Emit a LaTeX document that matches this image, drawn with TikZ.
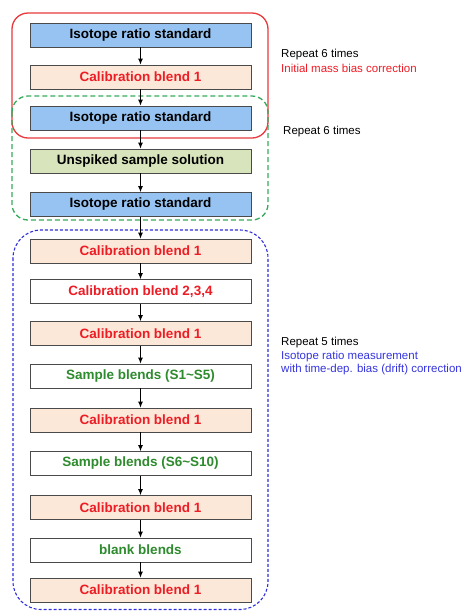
\documentclass[tikz,border=0pt]{standalone}
\usepackage{fontspec}
\setmainfont{Liberation Sans}
\usepackage{xcolor}
\usetikzlibrary{arrows.meta}
\definecolor{FlowBlue}{HTML}{96C3F2}
\definecolor{FlowPeach}{HTML}{FCE8D8}
\definecolor{FlowOlive}{HTML}{D8E4BC}
\definecolor{FlowEdge}{HTML}{4A4A4A}
\definecolor{LoopRed}{HTML}{E8383C}
\definecolor{LoopGreen}{HTML}{33AA5A}
\definecolor{LoopBlue}{HTML}{2E2EDC}
\definecolor{TextRed}{HTML}{EE1C25}
\definecolor{TextGreen}{HTML}{2E8B2E}
\definecolor{TextBlue}{HTML}{3434E0}
\tikzset{
  stagebox/.style={draw=FlowEdge,line width=0.8pt,minimum width=221pt,
    minimum height=24pt,inner sep=0pt,
    font=\bfseries\fontsize{13.5}{16}\selectfont},
  stdbox/.style={stagebox,fill=FlowBlue,text=black},
  calbox/.style={stagebox,fill=FlowPeach,text=TextRed},
  plainbox/.style={stagebox,fill=white},
  flow/.style={-{Latex[length=6pt,width=5pt]},line width=0.9pt,black},
  note/.style={anchor=west,inner sep=0pt,font=\fontsize{11.5}{13.5}\selectfont}
}
\begin{document}
\begin{tikzpicture}[x=1pt,y=-1pt]
  \useasboundingbox (0,0) rectangle (463,611);

  % repeat loops
  \draw[LoopRed,line width=1.3pt,rounded corners=16pt]
    (12,13) rectangle (268,138);
  \draw[LoopGreen,line width=1.3pt,rounded corners=16pt,
    dash pattern=on 5pt off 3pt]
    (12,96) rectangle (268,220);
  \draw[LoopBlue,line width=1.1pt,rounded corners=28pt,
    dash pattern=on 3pt off 2pt]
    (13,230) rectangle (268,609.5);

  % stages
  \node[stdbox] (std1) at (140.5,35) {Isotope ratio standard};
  \node[calbox] (calA) at (140.5,77) {Calibration blend 1};
  \node[stdbox] (std2) at (140.5,118) {Isotope ratio standard};
  \node[stagebox,fill=FlowOlive] (unsp) at (140.5,161) {Unspiked sample solution};
  \node[stdbox] (std3) at (140.5,204.5) {Isotope ratio standard};
  \node[calbox] (calB) at (140.5,251) {Calibration blend 1};
  \node[plainbox,text=TextRed] (cal234) at (140.5,291.5) {Calibration blend 2,3,4};
  \node[calbox] (calC) at (140.5,333.5) {Calibration blend 1};
  \node[plainbox,text=TextGreen] (smpA) at (140.5,376) {Sample blends (S1\textasciitilde S5)};
  \node[calbox] (calD) at (140.5,420) {Calibration blend 1};
  \node[plainbox,text=TextGreen] (smpB) at (140.5,463.5) {Sample blends (S6\textasciitilde S10)};
  \node[calbox] (calE) at (140.5,507.5) {Calibration blend 1};
  \node[plainbox,text=TextGreen] (blank) at (140.5,550) {blank blends};
  \node[calbox] (calF) at (140.5,590) {Calibration blend 1};

  % arrows
  \draw[flow] (std1) -- (calA);
  \draw[flow] (calA) -- (std2);
  \draw[flow] (std2) -- (unsp);
  \draw[flow] (unsp) -- (std3);
  \draw[flow] (std3) -- (calB);
  \draw[flow] (calB) -- (cal234);
  \draw[flow] (cal234) -- (calC);
  \draw[flow] (calC) -- (smpA);
  \draw[flow] (smpA) -- (calD);
  \draw[flow] (calD) -- (smpB);
  \draw[flow] (smpB) -- (calE);
  \draw[flow] (calE) -- (blank);
  \draw[flow] (blank) -- (calF);

  % notes
  \node[note] (rep1) at (281,55) {Repeat 6 times};
  \node[note,text=TextRed] (rep1b) at (281,68.5) {Initial mass bias correction};
  \node[note] (rep2) at (283,132) {Repeat 6 times};
  \node[note] (rep3) at (281,343) {Repeat 5 times};
  \node[note,text=TextBlue] (rep3b) at (281,356.5) {Isotope ratio measurement};
  \node[note,text=TextBlue] (rep3c) at (281,370) {with time-dep. bias (drift) correction};
\end{tikzpicture}
\end{document}
